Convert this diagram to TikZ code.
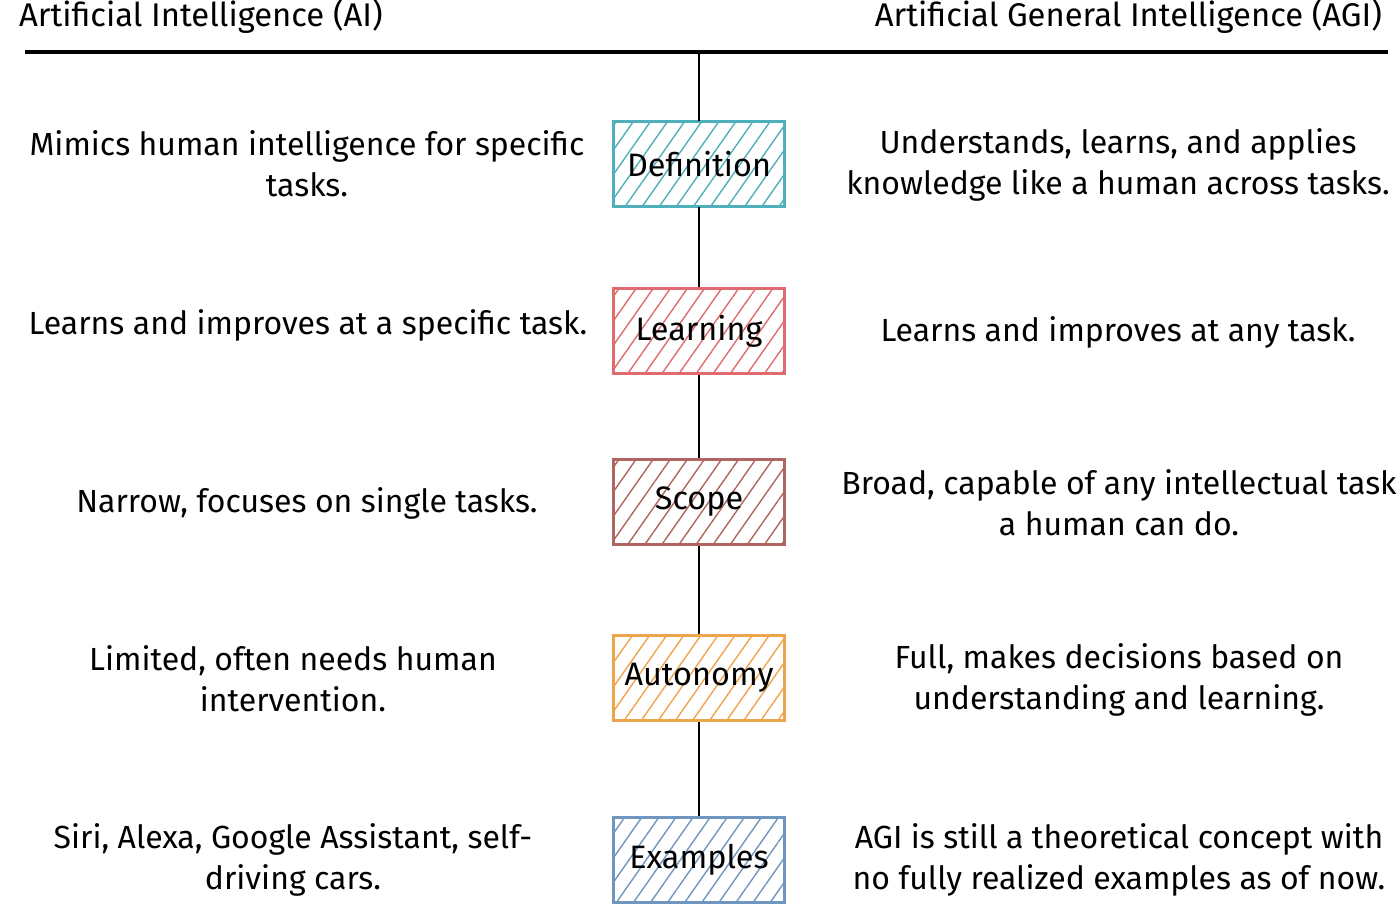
\documentclass[tikz,border=0pt]{standalone}
\usepackage{fontspec}
\setmainfont{Fira Sans}
\usetikzlibrary{patterns.meta,positioning}
\definecolor{DefTeal}{HTML}{4FB0BA}
\definecolor{LearnRed}{HTML}{E06B6E}
\definecolor{ScopeBrown}{HTML}{B06660}
\definecolor{AutoOrange}{HTML}{EDA54C}
\definecolor{ExBlue}{HTML}{6F96BE}
\tikzset{
  topic/.style={draw=#1, line width=1.6pt, minimum width=85.5pt, minimum height=42.5pt,
    pattern={Lines[angle=55,distance=7pt,line width=0.7pt]}, pattern color=#1,
    font=\fontsize{16.2}{18}\selectfont},
  side/.style={align=center, font=\fontsize{16}{20.5}\selectfont},
  heading/.style={font=\fontsize{16.4}{18}\selectfont},
  spine/.style={line width=1.1pt}
}

\begin{document}
\begin{tikzpicture}[x=0.5pt,y=-0.5pt]
  \useasboundingbox (0,0) rectangle (1400,904);
  % headings and rule
  \node[heading,anchor=west] (ai) at (12,16) {Artificial Intelligence (AI)};
  \node[heading,anchor=east] (agi) at (1389,16) {Artificial General Intelligence (AGI)};
  \coordinate (ruleL) at (25,52);
  \coordinate (ruleR) at (1388,52);
  \coordinate (top) at (699,52);
  \draw[line width=1.6pt] (ruleL) -- (ruleR);
  % topic boxes
  \foreach \name/\txt/\col/\y in {def/Definition/DefTeal/164, learn/Learning/LearnRed/331,
      scope/Scope/ScopeBrown/502, auto/Autonomy/AutoOrange/678, ex/Examples/ExBlue/860}{
    \node[topic=\col] (\name) at (699,\y) {\txt};
  }
  \draw[spine] (top) -- (def.north);
  \draw[spine] (def) -- (learn);
  \draw[spine] (learn) -- (scope);
  \draw[spine] (scope) -- (auto);
  \draw[spine] (auto) -- (ex);
  % AI side
  \node[side] (aidef) at (307,164) {Mimics human intelligence for specific\\tasks.};
  \node[side] (ailearn) at (308,325) {Learns and improves at a specific task.};
  \node[side] (aiscope) at (307,503) {Narrow, focuses on single tasks.};
  \node[side] (aiauto) at (293,679) {Limited, often needs human\\intervention.};
  \node[side] (aiex) at (293,860) {Siri, Alexa, Google Assistant, self-\\driving cars.};
  % AGI side
  \node[side] (agidef) at (1118,165) {Understands, learns, and applies\\knowledge like a human across tasks.};
  \node[side] (agilearn) at (1118,332) {Learns and improves at any task.};
  \node[side] (agiscope) at (1119,503) {Broad, capable of any intellectual task\\a human can do.};
  \node[side] (agiauto) at (1119,680) {Full, makes decisions based on\\understanding and learning.};
  \node[side] (agiex) at (1119,860) {AGI is still a theoretical concept with\\no fully realized examples as of now.};
\end{tikzpicture}
\end{document}
